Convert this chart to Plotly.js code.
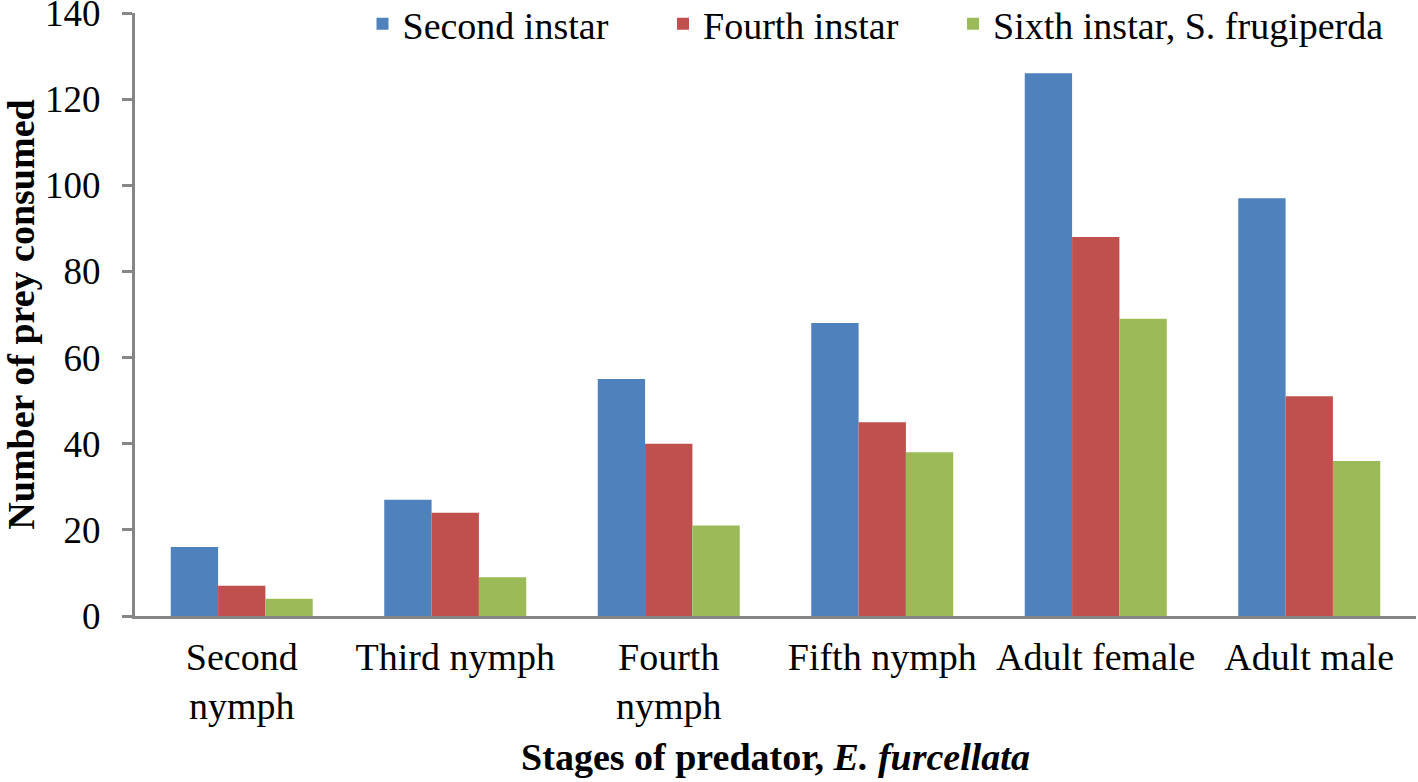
<!DOCTYPE html>
<html>
<head>
<meta charset="utf-8">
<script src="https://cdn.plot.ly/plotly-3.0.1.min.js"></script>
<style>html,body{margin:0;padding:0;background:#fff;}#chart{width:1418px;height:782px;}</style>
</head>
<body>
<div id="chart"></div>
<script>
const categories = ["Second<br>nymph", "Third nymph", "Fourth<br>nymph", "Fifth nymph", "Adult female", "Adult male"];
const seriesNames = ["Second instar", "Fourth instar", "Sixth instar, S. frugiperda"];
const secondInstar = [16, 27, 55, 68, 126, 97];
const fourthInstar = [7, 24, 40, 45, 88, 51];
const sixthInstar = [4, 9, 21, 38, 69, 36];
const yTicks = [0, 20, 40, 60, 80, 100, 120, 140];

const colors = ["#4F81BD", "#C0504D", "#9BBB59"];
const values = [secondInstar, fourthInstar, sixthInstar];
const legendIds = ["legend", "legend2", "legend3"];
const legendX = [0.1776, 0.4122, 0.6386];
const font = "Liberation Serif, Times New Roman, serif";
const fs = 38;

const traces = values.map((v, i) => ({
  type: "bar",
  name: seriesNames[i],
  x: categories,
  y: v,
  legend: legendIds[i],
  marker: {color: colors[i], line: {width: 0}},
  hoverinfo: "y"
}));

const layout = {
  width: 1418, height: 782,
  margin: {l: 135, r: 2, t: 13, b: 166, autoexpand: false},
  paper_bgcolor: "#fff", plot_bgcolor: "#fff",
  font: {family: font, size: fs, color: "#000"},
  bargap: 0.335, bargroupgap: 0,
  showlegend: true,
  xaxis: {
    type: "category",
    showline: true, linecolor: "#868686", linewidth: 3,
    ticks: "", showgrid: false, zeroline: false,
    ticklabelstandoff: 5,
    tickfont: {family: font, size: fs, color: "#000"},
    title: {text: "<b>Stages of predator, <i>E. furcellata</i></b>", font: {family: font, size: fs, color: "#000"}, standoff: 18},
    automargin: false
  },
  yaxis: {
    range: [0, 140], tickvals: yTicks, ticktext: yTicks.map(String),
    showline: true, linecolor: "#868686", linewidth: 3,
    ticks: "outside", ticklen: 10, tickwidth: 3, tickcolor: "#868686",
    showgrid: false, zeroline: false,
    ticklabelstandoff: 14, ticklabeloverflow: "allow",
    tickfont: {family: font, size: 37, color: "#000"},
    title: {text: "<b>Number of prey consumed</b>", font: {family: font, size: fs, color: "#000"}, standoff: 10},
    automargin: false
  }
};
legendIds.forEach((id, i) => {
  layout[id] = {
    orientation: "h", x: legendX[i], xanchor: "left", y: 1.034, yanchor: "top",
    font: {family: font, size: fs, color: "#000"},
    bgcolor: "rgba(0,0,0,0)"
  };
});

Plotly.newPlot("chart", traces, layout, {displayModeBar: false, responsive: false});
</script>
</body>
</html>
